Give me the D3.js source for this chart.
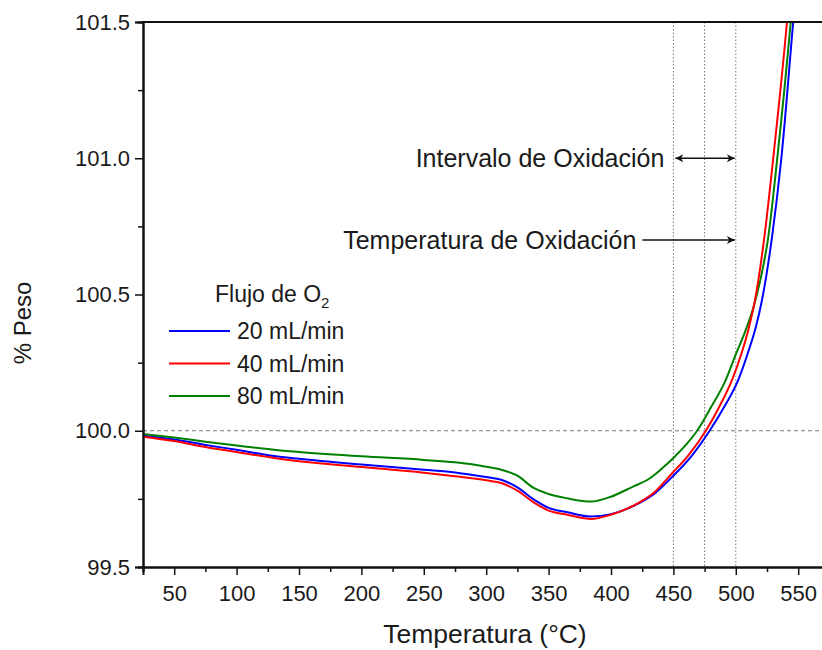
<!DOCTYPE html>
<html lang="es">
<head>
<meta charset="UTF-8">
<title>TGA - Flujo de O2</title>
<script src="https://cdnjs.cloudflare.com/ajax/libs/d3/7.8.5/d3.min.js"></script>
<style>
body { margin: 0; background: #fff; }
svg text { font-family: Arial, "Liberation Sans", sans-serif; fill: #1a1a1a; }
</style>
</head>
<body>
<script>

// temperaturas (°C) y % peso
var temp20 = [25,50,75,100,130,150,200,250,275,300,312,325,338,350,365,384,400,418,435,450,465,479,491,502,510,516,521,529,536.5,546,551];
var peso20 = [99.982,99.968,99.948,99.93,99.907,99.897,99.876,99.857,99.847,99.83,99.82,99.792,99.748,99.717,99.701,99.685,99.694,99.724,99.77,99.835,99.91,100.0,100.09,100.187,100.29,100.38,100.48,100.71,101.0,101.5,101.76];

var temp40 = [25,50,75,100,130,150,200,250,275,300,312,325,338,350,365,384,400,418,435,449,462,476,487,497,505,510,515,522.6,530,541,546];
var peso40 = [99.978,99.962,99.94,99.922,99.9,99.888,99.867,99.846,99.833,99.818,99.808,99.78,99.737,99.707,99.692,99.676,99.692,99.725,99.775,99.844,99.91,100.0,100.09,100.187,100.29,100.37,100.47,100.70,101.0,101.5,101.77];

var temp80 = [25,50,75,100,130,150,200,250,275,300,312,325,338,350,365,384,400,418,430,441,450,460,469,480,492,500,508,514,520,526,533,544,549];
var peso80 = [99.988,99.975,99.96,99.946,99.93,99.922,99.906,99.893,99.884,99.868,99.857,99.835,99.79,99.768,99.752,99.74,99.758,99.796,99.822,99.862,99.9,99.948,100.0,100.085,100.187,100.28,100.37,100.45,100.56,100.71,100.99,101.5,101.77];

var seriesNames = ["20 mL/min", "40 mL/min", "80 mL/min"];
var seriesColors = ["#0000ff", "#ff0000", "#008000"];

var xTicks = [50,100,150,200,250,300,350,400,450,500,550];
var xMinor = [25,75,125,175,225,275,325,375,425,475,525,575];
var yTicks = [99.5,100.0,100.5,101.0,101.5];
var yMinor = [99.75,100.25,100.75,101.25];
var refLinesX = [450,475,500];

var W = 822, H = 650;
var plotLeft = 143, plotTop = 22, plotBottom = 567;

var x = d3.scaleLinear().domain([25, 575]).range([plotLeft, plotLeft + 550 * 1.248]);
var y = d3.scaleLinear().domain([99.5, 101.5]).range([plotBottom, plotTop]);

var svg = d3.select("body").append("svg")
    .attr("width", W)
    .attr("height", H);

var defs = svg.append("defs");
defs.append("clipPath").attr("id", "plot")
    .append("rect")
    .attr("x", plotLeft).attr("y", plotTop)
    .attr("width", W - plotLeft).attr("height", plotBottom - plotTop);

var marker = defs.append("marker")
    .attr("id", "head")
    .attr("viewBox", "0 0 10 10")
    .attr("refX", 10).attr("refY", 5)
    .attr("markerWidth", 10).attr("markerHeight", 8)
    .attr("markerUnits", "userSpaceOnUse")
    .attr("orient", "auto-start-reverse");
marker.append("path").attr("d", "M0,0 L10,5 L0,10 L3,5 Z").attr("fill", "#111");

// lineas de referencia
svg.selectAll(".vref").data(refLinesX).enter().append("line")
    .attr("x1", function(d){ return x(d); })
    .attr("x2", function(d){ return x(d); })
    .attr("y1", plotTop).attr("y2", plotBottom)
    .attr("stroke", "#777").attr("stroke-width", 1)
    .attr("stroke-dasharray", "1.5,2");

svg.append("line")
    .attr("x1", plotLeft).attr("x2", W)
    .attr("y1", y(100)).attr("y2", y(100))
    .attr("stroke", "#777").attr("stroke-width", 1.2)
    .attr("stroke-dasharray", "4,3");

// curvas
var line = d3.line()
    .x(function(d){ return x(d[0]); })
    .y(function(d){ return y(d[1]); })
    .curve(d3.curveMonotoneX);

var data = [d3.zip(temp20, peso20), d3.zip(temp80, peso80), d3.zip(temp40, peso40)];
var colors = [seriesColors[0], seriesColors[2], seriesColors[1]];

svg.append("g").attr("clip-path", "url(#plot)")
    .selectAll("path").data(data).enter().append("path")
    .attr("d", line)
    .attr("fill", "none")
    .attr("stroke", function(d, i){ return colors[i]; })
    .attr("stroke-width", 2);

// ejes
svg.append("g").attr("transform", "translate(" + plotLeft + ",0)")
    .call(d3.axisLeft(y).tickValues(yTicks).tickFormat(d3.format(".1f")).tickSize(8).tickPadding(5));
svg.append("g").attr("transform", "translate(" + plotLeft + ",0)")
    .call(d3.axisLeft(y).tickValues(yMinor).tickFormat("").tickSize(5));

svg.append("g").attr("transform", "translate(0," + plotBottom + ")")
    .call(d3.axisBottom(x).tickValues(xTicks).tickSize(8).tickPadding(10));
svg.append("g").attr("transform", "translate(0," + plotBottom + ")")
    .call(d3.axisBottom(x).tickValues(xMinor).tickFormat("").tickSize(5));

svg.selectAll(".domain").attr("stroke", "#111").attr("stroke-width", 2);
svg.selectAll(".tick line").attr("stroke", "#111").attr("stroke-width", 1.5);
svg.selectAll(".tick text").attr("font-size", 22).attr("fill", "#1a1a1a");

// borde superior
svg.append("line")
    .attr("x1", plotLeft - 1).attr("x2", W)
    .attr("y1", plotTop).attr("y2", plotTop)
    .attr("stroke", "#111").attr("stroke-width", 2);

// titulos de ejes
svg.append("text")
    .attr("x", x(299)).attr("y", 643)
    .attr("text-anchor", "middle")
    .attr("font-size", 26.5)
    .text("Temperatura (°C)");

svg.append("text")
    .attr("transform", "translate(31,323) rotate(-90)")
    .attr("text-anchor", "middle")
    .attr("font-size", 24)
    .text("% Peso");

// anotaciones
svg.append("text")
    .attr("x", x(450) - 9).attr("y", y(101.0) + 9)
    .attr("text-anchor", "end")
    .attr("font-size", 25)
    .text("Intervalo de Oxidación");
svg.append("line")
    .attr("x1", x(450) + 2).attr("x2", x(500) - 1)
    .attr("y1", y(101.0)).attr("y2", y(101.0))
    .attr("stroke", "#111").attr("stroke-width", 1.5)
    .attr("marker-start", "url(#head)")
    .attr("marker-end", "url(#head)");

svg.append("text")
    .attr("x", x(450) - 37).attr("y", y(100.7) + 9)
    .attr("text-anchor", "end")
    .attr("font-size", 25)
    .text("Temperatura de Oxidación");
svg.append("line")
    .attr("x1", x(450) - 31).attr("x2", x(500) - 1)
    .attr("y1", y(100.7)).attr("y2", y(100.7))
    .attr("stroke", "#111").attr("stroke-width", 1.5)
    .attr("marker-end", "url(#head)");

// leyenda
var legend = svg.append("g");
var title = legend.append("text")
    .attr("x", 215).attr("y", 302)
    .attr("font-size", 23)
    .text("Flujo de O");
title.append("tspan").attr("dy", 6).attr("font-size", 15).text("2");

var items = legend.selectAll(".item").data(seriesNames).enter().append("g")
    .attr("transform", function(d, i){ return "translate(0," + (331 + i * 32.5) + ")"; });
items.append("line")
    .attr("x1", 169).attr("x2", 230)
    .attr("stroke", function(d, i){ return seriesColors[i]; })
    .attr("stroke-width", 2);
items.append("text")
    .attr("x", 237).attr("y", 8)
    .attr("font-size", 23)
    .text(function(d){ return d; });

</script>
</body>
</html>
